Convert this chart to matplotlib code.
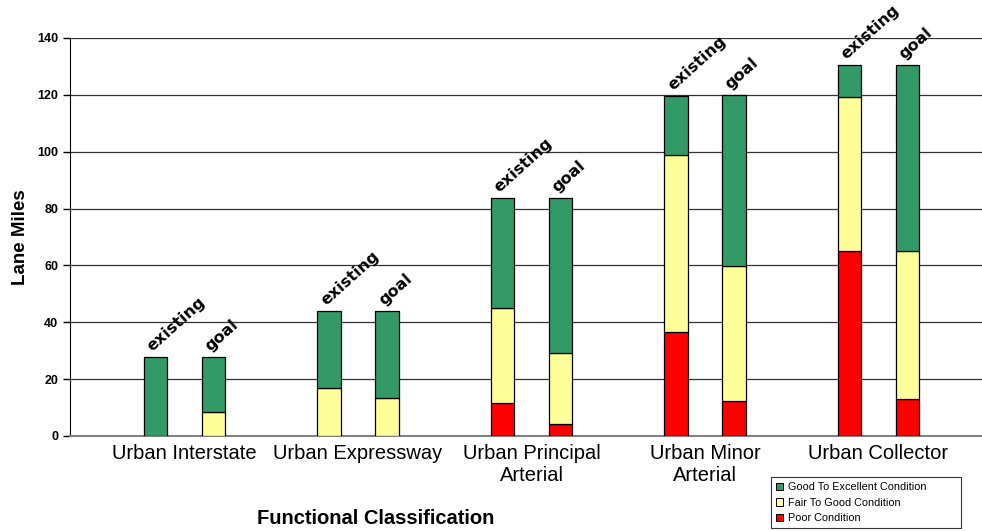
import matplotlib
matplotlib.use("Agg")
import matplotlib.pyplot as plt
import numpy as np
from matplotlib.patches import Patch

plt.rcParams["font.family"] = ["Liberation Sans", "DejaVu Sans"]

categories = ["Urban Interstate", "Urban Expressway", "Urban Principal\nArterial",
              "Urban Minor\nArterial", "Urban Collector"]
scenarios = ["existing", "goal"]
# values per category: [existing, goal]
poor = [[0, 0], [0, 0], [11.6, 4.1], [36.5, 12.2], [65.1, 13.1]]
fair = [[0, 8.3], [16.9, 13.4], [33.4, 25.1], [62.2, 47.6], [54.1, 52.0]]
good = [[27.8, 19.5], [27.1, 30.6], [38.7, 54.5], [20.9, 60.0], [11.3, 65.4]]

series_names = ["Good To Excellent Condition", "Fair To Good Condition", "Poor Condition"]
colors = {"good": "#339966", "fair": "#FFFF99", "poor": "#FF0000"}

fig = plt.figure(figsize=(9.82, 5.31), dpi=100)
ax = fig.add_axes([70/982, 1 - 436/531, 1 - 70/982, (436 - 38)/531])

width = 0.41
for i, cat in enumerate(categories):
    for j, sc in enumerate(scenarios):
        x = 3 * i + j
        p, f, g = poor[i][j], fair[i][j], good[i][j]
        bottom = 0
        for val, key in ((p, "poor"), (f, "fair"), (g, "good")):
            if val > 0:
                ax.bar(x, val, width, bottom=bottom, color=colors[key],
                       edgecolor="black", linewidth=0.9, zorder=3)
            bottom += val
        ax.text(x - 0.02, bottom + 1.2, sc, rotation=42, rotation_mode="anchor",
                ha="left", va="bottom", fontsize=11.5, fontweight="bold",
                family=["Liberation Sans Narrow", "DejaVu Sans"], zorder=4)

ax.set_xlim(-1.48, 14.29)
ax.set_ylim(0, 140)
ax.set_yticks(np.arange(0, 141, 20))
ax.set_xticks([3 * i + 0.5 for i in range(len(categories))])
ax.set_xticklabels(categories, fontsize=14.5, linespacing=1.15)
ax.tick_params(axis="x", length=0, pad=6)
ax.tick_params(axis="y", labelsize=9, length=5, width=1)
for lab in ax.get_yticklabels():
    lab.set_fontweight("bold")
ax.yaxis.grid(True, color="#333333", linewidth=0.9, zorder=0)
ax.spines["top"].set_visible(False)
ax.spines["right"].set_visible(False)
ax.spines["left"].set_color("black")
ax.spines["bottom"].set_color("#808080")
ax.spines["bottom"].set_linewidth(1.5)

ax.set_ylabel("Lane Miles", fontsize=13.5, fontweight="bold", labelpad=6)
fig.text(376/982, 1 - 519/531, "Functional Classification", fontsize=14.5,
         fontweight="bold", ha="center", va="center")

handles = [Patch(facecolor=colors["good"], edgecolor="black", linewidth=0.7),
           Patch(facecolor=colors["fair"], edgecolor="black", linewidth=0.7),
           Patch(facecolor=colors["poor"], edgecolor="black", linewidth=0.7)]
leg = fig.legend(handles, series_names, loc="lower left",
                 bbox_to_anchor=(771/982, 1 - 528/531, 190/982, 52/531),
                 mode="expand", fontsize=7.8, frameon=True, fancybox=False,
                 handlelength=0.7, handleheight=0.7, handletextpad=0.4,
                 borderpad=0.45, labelspacing=0.5, borderaxespad=0)
leg.get_frame().set_edgecolor("black")
leg.get_frame().set_linewidth(0.8)

fig.savefig("out.png", dpi=100)
